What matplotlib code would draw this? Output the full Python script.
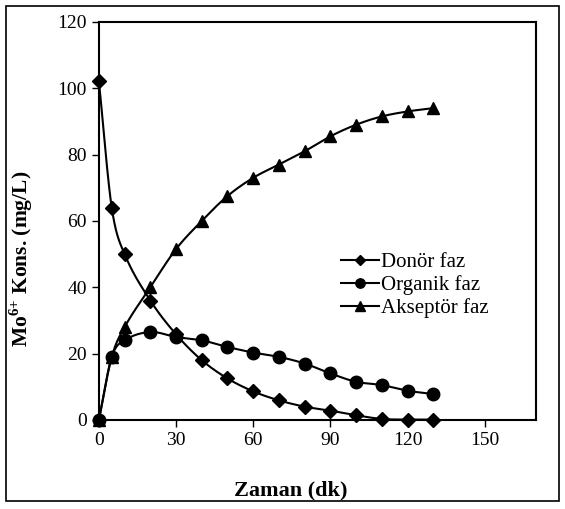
import numpy as np
import matplotlib
matplotlib.use("Agg")
import matplotlib.pyplot as plt
from matplotlib.patches import Rectangle
from matplotlib.lines import Line2D

plt.rcParams['font.family'] = ['Liberation Serif', 'DejaVu Serif']
plt.rcParams['mathtext.fontset'] = 'custom'
plt.rcParams['mathtext.rm'] = 'Liberation Serif:bold'
plt.rcParams['mathtext.bf'] = 'Liberation Serif:bold'

time = [0, 5, 10, 20, 30, 40, 50, 60, 70, 80, 90, 100, 110, 120, 130]
donor = [102.2, 64, 50, 36, 25.8, 18, 12.5, 8.6, 5.9, 4, 2.8, 1.4, 0.3, 0.1, 0.1]
organik = [0, 19, 24, 26.5, 25, 24, 22, 20.3, 19, 17, 14, 11.5, 10.5, 8.8, 7.8]
akseptor = [0, 19, 28, 40, 51.5, 60, 67.5, 73, 77, 81, 85.5, 89, 91.5, 93, 94]
series_names = ['Donör faz', 'Organik faz', 'Akseptör faz']
x_ticks = [0, 30, 60, 90, 120, 150]
y_ticks = [0, 20, 40, 60, 80, 100, 120]


def smooth(x, y, n=20):
    # Hermite rendering of the line through the data points (x-parameterised)
    x = np.asarray(x, float); y = np.asarray(y, float)
    m = np.zeros_like(y)
    m[0] = (y[1] - y[0]) / (x[1] - x[0])
    m[-1] = (y[-1] - y[-2]) / (x[-1] - x[-2])
    m[1:-1] = (y[2:] - y[:-2]) / (x[2:] - x[:-2])
    ox, oy = [], []
    t = np.linspace(0, 1, n)
    for i in range(len(x) - 1):
        h = x[i + 1] - x[i]
        h00 = 2 * t ** 3 - 3 * t ** 2 + 1
        h10 = t ** 3 - 2 * t ** 2 + t
        h01 = -2 * t ** 3 + 3 * t ** 2
        h11 = t ** 3 - t ** 2
        ox.extend(x[i] + t * h)
        oy.extend(h00 * y[i] + h10 * h * m[i] + h01 * y[i + 1] + h11 * h * m[i + 1])
    return ox, oy


fig = plt.figure(figsize=(5.65, 5.09), dpi=100)
ax = fig.add_axes([0.175, 0.175, 0.774, 0.782])

markers = ['D', 'o', '^']
msizes = [7, 9, 9]
handles = []
for data, mk, ms, name in zip([donor, organik, akseptor], markers, msizes, series_names):
    sx, sy = smooth(time, data)
    ax.plot(sx, sy, color='black', lw=1.5, zorder=2, clip_on=False)
    ax.plot(time, data, linestyle='none', marker=mk, ms=ms, color='black', zorder=3, clip_on=False)
    handles.append(Line2D([], [], color='black', lw=1.5, marker=mk, ms=ms * 0.75, label=name))

ax.set_xlim(0, 170)
ax.set_ylim(0, 120)
ax.set_xticks(x_ticks)
ax.set_yticks(y_ticks)
ax.tick_params(direction='out', length=5, width=1, labelsize=14, colors='black')
for s in ax.spines.values():
    s.set_linewidth(1.5)
ax.set_xlabel('Zaman (dk)', fontsize=16, fontweight='bold')
ax.xaxis.set_label_coords(0.439, -0.151)
ax.set_ylabel(r'Mo$^{6{+}}$ Kons. (mg/L)', fontsize=15.5, fontweight='bold')
ax.yaxis.set_label_coords(-0.146, 0.405)

ax.legend(handles=handles, loc='upper left', bbox_to_anchor=(0.53, 0.447), frameon=False,
          fontsize=15, handlelength=1.8, handletextpad=0.1, labelspacing=0.15, borderpad=0)

fig.patches.append(Rectangle((0.011, 0.016), 0.978, 0.972, transform=fig.transFigure,
                             fill=False, edgecolor='black', lw=1.2))

fig.savefig('out.png', dpi=100)
